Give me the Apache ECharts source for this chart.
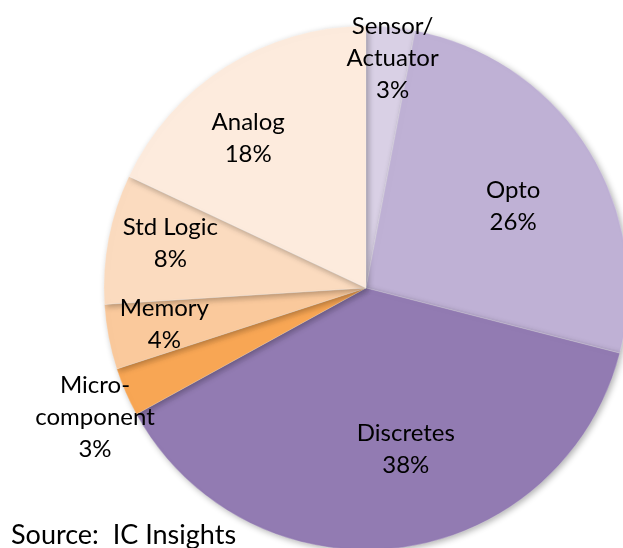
<!DOCTYPE html>
<html>
<head>
<meta charset="utf-8">
<script src="https://cdn.jsdelivr.net/npm/echarts@6/dist/echarts.min.js"></script>
<style>
html,body{margin:0;padding:0;background:#fff;}
#main{width:623px;height:548px;}
</style>
</head>
<body>
<div id="main"></div>
<script>
var names = ['Sensor/\nActuator', 'Opto', 'Discretes', 'Micro-\ncomponent', 'Memory', 'Std Logic', 'Analog'];
var shares = [3, 26, 38, 3, 4, 8, 18];
var colors = ['#D9D0E5', '#BFB1D5', '#927BB2', '#F8A654', '#FAC99C', '#FBDBBF', '#FDEBDD'];
// label nudges from the default inside spot (px)
var nudge = [[14, -96], [34, -10], [23, 28], [-148, 76], [-70, 11], [-64, -20], [-46, -37]];

var chart = echarts.init(document.getElementById('main'));

var data = [];
for (var i = 0; i < names.length; i++) {
    data.push({
        name: names[i],
        value: shares[i],
        itemStyle: { color: colors[i] }
    });
}

var option = {
    animation: false,
    title: {
        text: 'Source:  IC Insights',
        left: 6,
        top: 517,
        textStyle: {
            fontFamily: 'Lato',
            fontSize: 27,
            fontWeight: 'normal',
            color: '#000'
        }
    },
    series: [{
        type: 'pie',
        center: [366, 288],
        radius: 262,
        startAngle: 90,
        clockwise: true,
        data: data,
        itemStyle: {
            borderColor: 'rgba(255,255,255,0.4)',
            borderWidth: 0.5,
            shadowBlur: 6,
            shadowOffsetX: 2,
            shadowOffsetY: 2,
            shadowColor: 'rgba(0,0,0,0.3)'
        },
        label: {
            show: true,
            position: 'inside',
            formatter: '{b}\n{c}%',
            fontFamily: 'Lato',
            fontSize: 24,
            lineHeight: 32,
            color: '#000',
            align: 'center'
        },
        labelLayout: function (p) {
            return { dx: nudge[p.dataIndex][0], dy: nudge[p.dataIndex][1] };
        },
        emphasis: { disabled: true }
    }]
};

chart.setOption(option);
window.onresize = chart.resize;
</script>
</body>
</html>
